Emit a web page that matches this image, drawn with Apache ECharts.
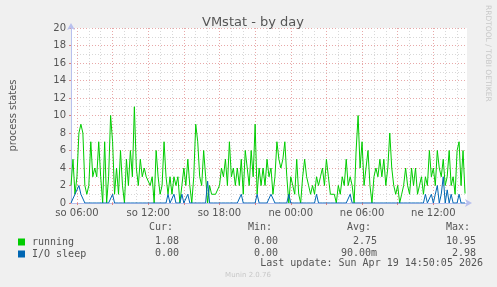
<!DOCTYPE html>
<html>
<head>
<meta charset="utf-8">
<script src="https://cdn.jsdelivr.net/npm/echarts@6/dist/echarts.min.js"></script>
<style>html,body{margin:0;padding:0;background:#f0f0f0;}#c{width:497px;height:287px;}</style>
</head>
<body>
<div id="c"></div>
<script>
// ---- data (10-minute samples, starting Sat 05:30) ----
const running = [
2,5,1,3,8,9,8,2,1,2,7,3,4,3,7,3,0,7,0,3,
10,7,1,4,1,6,2,0,5,2,6,3,11,4,2,5,3,4,3,3,
2,3,0,6,3,1,2,7,3,1,3,1,3,2,3,0,2,4,2,5,
2,0,3,9,7,3,2,6,3,0,2,1,1,1,1,2,4,3,5,2,
7,3,4,2,4,2,5,1,6,4,2,6,3,9,1,4,2,4,2,5,
3,
4,1,3,7,5,4,5,7,3,0,3,2,1,5,1,0,3,5,3,2,
1,2,1,3,2,3,4,2,5,3,1,1,1,0,2,1,3,2,5,2,
3,2,0,6,10,4,7,2,4,6,2,0,3,4,3,5,3,5,2,4,
8,4,2,1,2,0,1,2,4,2,1,4,2,4,1,2,3,1,3,2,
6,3,4,2,6,4,3,5,2,3,6,2,3,1,6,7,2,6,1.08
];
const ioSleep = [
0,0,1,1,2,1,1,0,0,0,0,0,0,0,0,0,0,0,0,0,
0,1,0,0,0,0,0,0,0,0,0,0,0,0,0,0,0,0,0,0,
0,0,0,0,0,0,0,0,0,1,0,0,1,0,0,0,1,0,0,1,
0,0,0,0,0,0,0,0,0,2.5,0,0,0,0,0,0,0,0,0,0,
0,0,0,0,0,0,1,0,0,0,0,0,0,0,1,0,0,0,0,0,
0,
1,1,0,0,0,0,0,0,0,1,0,0,0,0,0,0,0,0,0,0,
0,0,0,1,0,0,0,0,0,0,0,0,0,0,0,0,0,0,0,0,
1,0,0,0,0,0,0,0,0,0,0,0,0,0,0,0,0,0,0,0,
0,0,0,0,0,0,0,0,0,0,0,0,0,0,0,0,0,0,1,0,
0,1,0,1,2,0,1,3,0,1.5,0,1,0,0,0,1,0,0,0
];
const seriesNames = ['running', 'I/O sleep'];
const seriesColors = ['#00cc00', '#0066b3'];
const statHeaders = ['Cur:', 'Min:', 'Avg:', 'Max:'];
const statsRunning = ['1.08', '0.00', '2.75', '10.95'];
const statsIo = ['0.00', '0.00', '90.00m', '2.98'];
const dayNames = ['ne', 'po', 'út', 'st', 'čt', 'pá', 'so'];
const titleText = 'VMstat - by day';
const yName = 'process states';
const lastUpdate = 'Last update: Sun Apr 19 14:50:05 2026';
const footer = 'Munin 2.0.76';
const sideText = 'RRDTOOL / TOBI OETIKER';

// time slots: Sat 05:30 .. Sun 14:50, 10-minute steps
const START_MIN = 5 * 60 + 30;   // minutes after Saturday 00:00
const STEP_MIN = 10;
const SLOT_COUNT = 201;
const slotMin = [];
for (let i = 0; i < SLOT_COUNT; i++) slotMin.push(START_MIN + i * STEP_MIN);
const pad2 = n => (n < 10 ? '0' : '') + n;
const categories = slotMin.map(m => {
  const day = Math.floor(m / 1440), h = Math.floor((m % 1440) / 60), mm = m % 60;
  return dayNames[(6 + day) % 7] + ' ' + pad2(h) + ':' + pad2(mm);
});
const isHour = i => slotMin[i] % 60 === 0;
const isHour3 = i => slotMin[i] % 180 === 0;
const isHour6 = i => slotMin[i] % 360 === 0;

const chart = echarts.init(document.getElementById('c'), null, {renderer: 'canvas'});
const mono = 'DejaVu Sans Mono';
const textCol = '#555';
const majorCol = '#e8a8a8';
const minorCol = '#d8d8d8';

const colX = [172, 271, 370, 469];
const graphics = [];
const monoFont = '10px "' + mono + '"';
statHeaders.forEach((h, k) => graphics.push({type: 'text', x: colX[k] + 1, y: 222, style: {text: h, font: monoFont, fill: textCol, align: 'right'}}));
statsRunning.forEach((h, k) => graphics.push({type: 'text', x: colX[k] + 7, y: 236, style: {text: h, font: monoFont, fill: textCol, align: 'right'}}));
statsIo.forEach((h, k) => graphics.push({type: 'text', x: colX[k] + 7, y: 248, style: {text: h, font: monoFont, fill: textCol, align: 'right'}}));
graphics.push({type: 'text', x: 483, y: 258, style: {text: lastUpdate, font: monoFont, fill: textCol, align: 'right'}});
graphics.push({type: 'text', x: 248, y: 272, style: {text: footer, font: '7px "DejaVu Sans"', fill: '#c8c8c8', align: 'center'}});
graphics.push({type: 'text', x: 488, y: 5, rotation: -Math.PI / 2, style: {text: sideText, font: '7.5px "DejaVu Sans"', fill: '#c8c8c8', align: 'left', verticalAlign: 'middle'}});

chart.setOption({
  backgroundColor: '#f0f0f0',
  animation: false,
  title: {text: titleText, left: 248, textAlign: 'center', top: 11, textStyle: {fontFamily: 'DejaVu Sans', fontSize: 13, fontWeight: 'normal', color: '#555'}},
  grid: {left: 67, right: 30, top: 28, bottom: 84, show: true, backgroundColor: '#ffffff', borderWidth: 0, containLabel: false},
  legend: {
    orient: 'vertical', left: 13, top: 232, itemWidth: 7, itemHeight: 7, itemGap: 2,
    icon: 'rect', data: seriesNames,
    textStyle: {fontFamily: mono, fontSize: 10, color: textCol, padding: [0, 0, 0, 2]},
    selectedMode: false
  },
  xAxis: [
    {
      type: 'category', position: 'bottom', data: categories, boundaryGap: false,
      axisLine: {show: false}, axisTick: {show: false}, axisLabel: {show: false},
      splitLine: {show: true, interval: i => isHour(i), lineStyle: {color: minorCol, type: [1, 2], width: 1}}
    },
    {
      type: 'category', position: 'bottom', data: categories, boundaryGap: false,
      axisLine: {show: true, lineStyle: {color: '#b8c0ee', width: 1}, symbol: ['none', 'arrow'], symbolSize: [6, 7], symbolOffset: [0, 5]},
      axisTick: {show: true, length: 2, interval: i => isHour3(i), lineStyle: {color: '#e08080'}},
      splitLine: {show: true, interval: i => isHour3(i), lineStyle: {color: majorCol, type: [1, 2], width: 1}},
      axisLabel: {
        show: true, interval: i => isHour6(i), margin: 5, hideOverlap: false,
        fontFamily: 'DejaVu Sans', fontSize: 10, color: textCol
      }
    }
  ],
  yAxis: {
    type: 'value', min: 0, max: 20, interval: 2,
    name: yName, nameLocation: 'middle', nameGap: 53, nameRotate: 90,
    nameTextStyle: {fontFamily: 'DejaVu Sans', fontSize: 10, color: textCol},
    axisLine: {show: true, lineStyle: {color: '#b8c0ee', width: 1}, symbol: ['none', 'arrow'], symbolSize: [6, 7], symbolOffset: [0, 5]},
    axisTick: {show: true, length: 2, lineStyle: {color: '#e08080'}},
    minorTick: {show: true, splitNumber: 2, length: 0, lineStyle: {color: 'rgba(0,0,0,0)'}},
    splitLine: {show: true, lineStyle: {color: majorCol, type: [1, 2], width: 1}},
    minorSplitLine: {show: true, lineStyle: {color: minorCol, type: [1, 2], width: 1}},
    axisLabel: {margin: 5, fontFamily: 'DejaVu Sans', fontSize: 10, color: textCol}
  },
  series: [
    {name: seriesNames[0], type: 'line', xAxisIndex: 1, data: running, showSymbol: false, symbol: 'none', color: seriesColors[0], lineStyle: {width: 1, color: seriesColors[0]}, z: 3},
    {name: seriesNames[1], type: 'line', xAxisIndex: 1, data: ioSleep, showSymbol: false, symbol: 'none', color: seriesColors[1], lineStyle: {width: 1, color: seriesColors[1]}, z: 4}
  ],
  graphic: graphics
});
</script>
</body>
</html>
